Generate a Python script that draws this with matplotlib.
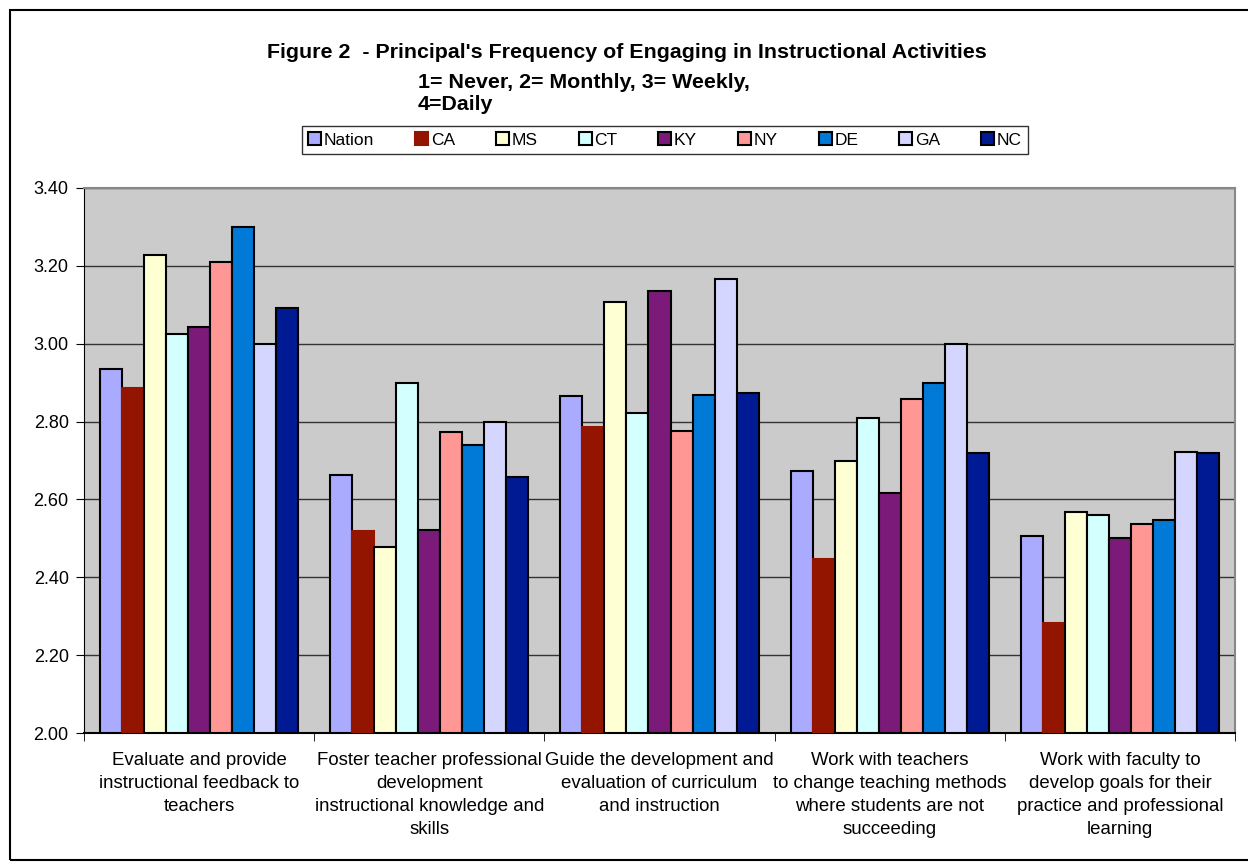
import matplotlib
matplotlib.use("Agg")
import matplotlib.pyplot as plt
import numpy as np
from matplotlib.patches import Rectangle

plt.rcParams['font.family'] = ['Liberation Sans', 'DejaVu Sans']

categories = [
    "Evaluate and provide\ninstructional feedback to\nteachers",
    "Foster teacher professional\ndevelopment\ninstructional knowledge and\nskills",
    "Guide the development and\nevaluation of curriculum\nand instruction",
    "Work with teachers\nto change teaching methods\nwhere students are not\nsucceeding",
    "Work with faculty to\ndevelop goals for their\npractice and professional\nlearning",
]
series_names = ["Nation", "CA", "MS", "CT", "KY", "NY", "DE", "GA", "NC"]
nation = [2.935, 2.663, 2.866, 2.674, 2.506]
ca     = [2.885, 2.518, 2.785, 2.448, 2.282]
ms     = [3.228, 2.478, 3.107, 2.699, 2.567]
ct     = [3.025, 2.898, 2.821, 2.809, 2.561]
ky     = [3.042, 2.521, 3.135, 2.617, 2.500]
ny     = [3.210, 2.773, 2.776, 2.858, 2.536]
de     = [3.299, 2.741, 2.869, 2.900, 2.547]
ga     = [3.000, 2.800, 3.165, 3.000, 2.723]
nc     = [3.092, 2.657, 2.873, 2.718, 2.718]
series = [nation, ca, ms, ct, ky, ny, de, ga, nc]
colors = ["#AAAAFF", "#931500", "#FFFFD4", "#D4FFFF", "#7B1A78",
          "#FF9894", "#007AD6", "#D4D6FF", "#001A94"]
yticks = [2.00, 2.20, 2.40, 2.60, 2.80, 3.00, 3.20, 3.40]

fig = plt.figure(figsize=(12.48, 8.63), dpi=100)
ax = fig.add_axes([84/1248, 1-733/863, (1235-84)/1248, (733-188)/863])
ax.set_facecolor("#CBCBCB")

x = np.arange(len(categories))
bw = 0.0957
n = len(series)
for i, (name, vals, col) in enumerate(zip(series_names, series, colors)):
    offs = (i - (n - 1) / 2) * bw
    if name == "CA":
        ax.bar(x + offs, [v - 2.0 for v in vals], bw, bottom=2.0, color=col,
               edgecolor=col, linewidth=1.5, label=name, zorder=3)
    else:
        ax.bar(x + offs, [v - 2.0 for v in vals], bw, bottom=2.0, color=col,
               edgecolor="black", linewidth=1.5, label=name, zorder=3)

ax.set_ylim(2.0, 3.4)
ax.set_xlim(-0.5, len(categories) - 0.5)
ax.set_yticks(yticks)
ax.set_yticklabels([f"{v:.2f}" for v in yticks], fontsize=13)
ax.yaxis.grid(True, color="#333333", linewidth=1.0, zorder=0)
ax.set_axisbelow(True)
ax.set_xticks(x)
ax.set_xticklabels(categories, fontsize=13.4, linespacing=1.45, va="top")
ax.tick_params(axis="x", length=0, pad=14)
ax.set_xticks(np.arange(len(categories) + 1) - 0.5, minor=True)
ax.tick_params(axis="x", which="minor", length=6, direction="out", color="black")
ax.tick_params(axis="y", length=6, direction="out", color="black", pad=5)
for s in ["top", "right"]:
    ax.spines[s].set_color("#888888")
    ax.spines[s].set_linewidth(1.5)
ax.spines["left"].set_color("black")
ax.spines["bottom"].set_color("black")
ax.spines["bottom"].set_linewidth(1.5)

fig.text(627/1248, 1-53/863, "Figure 2  - Principal's Frequency of Engaging in Instructional Activities",
         ha="center", va="center", fontsize=15.4, fontweight="bold")
fig.text(418/1248, 1-83/863, "1= Never, 2= Monthly, 3= Weekly,",
         ha="left", va="center", fontsize=15.4, fontweight="bold")
fig.text(418/1248, 1-104/863, "4=Daily",
         ha="left", va="center", fontsize=15.4, fontweight="bold")

leg = fig.legend(loc="center", bbox_to_anchor=(665/1248, 1-140/863), ncol=9,
                 fontsize=12.5, frameon=True, fancybox=False, handlelength=0.75,
                 handleheight=0.75, handletextpad=0.15, columnspacing=2.36,
                 borderpad=0.35, edgecolor="black")
leg.get_frame().set_linewidth(1.0)

fig.patches.append(Rectangle((10/1248, 1-860/863), 1.0, 850/863, transform=fig.transFigure,
                             fill=False, edgecolor="black", linewidth=1.5))

fig.savefig("out.png", dpi=100)
